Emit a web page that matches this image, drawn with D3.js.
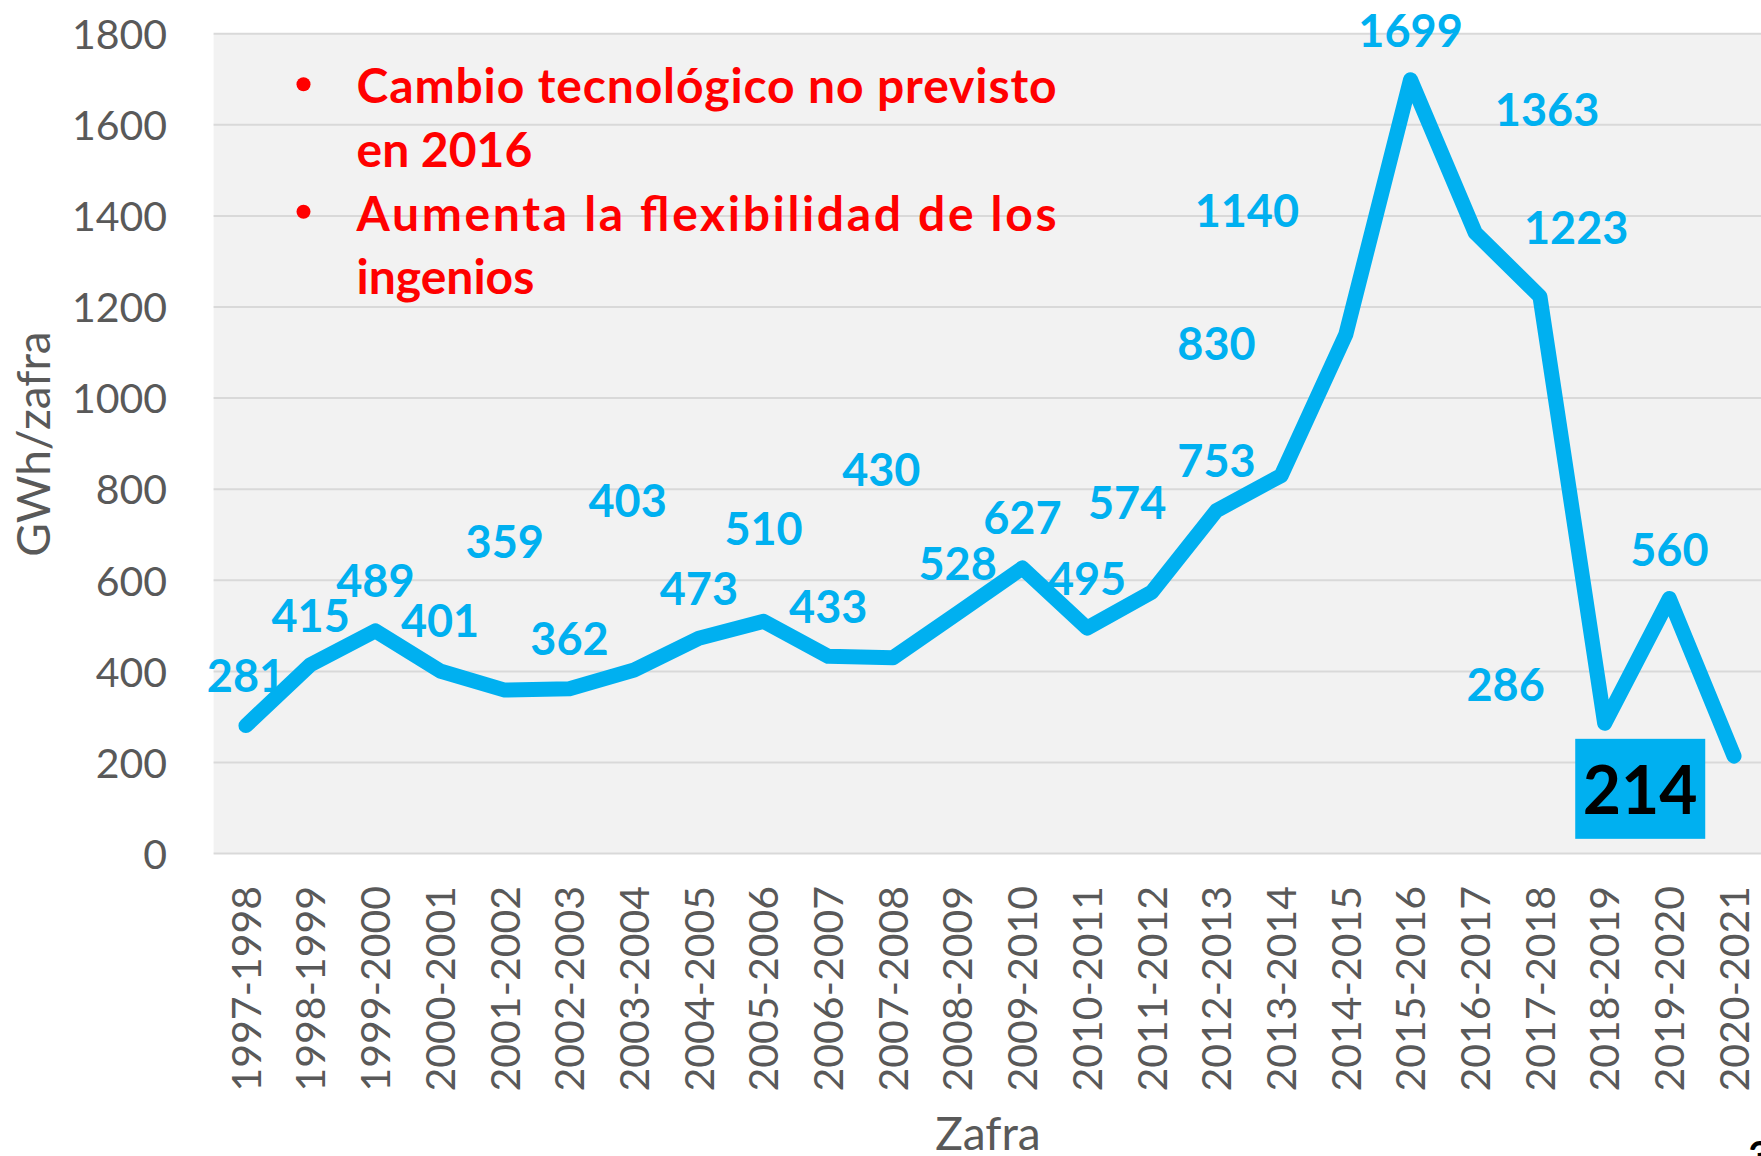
<!DOCTYPE html>
<html>
<head>
<meta charset="utf-8">
<script src="https://cdn.jsdelivr.net/npm/d3@7"></script>
<style>
  body { margin: 0; background: #fff; }
  svg { display: block; font-family: Lato, "Open Sans", sans-serif; }
</style>
</head>
<body>
<div id="chart"></div>
<script>
var svgWidth = 1761;
var svgHeight = 1156;

// data
var zafras = ["1997-1998", "1998-1999", "1999-2000", "2000-2001", "2001-2002", "2002-2003",
  "2003-2004", "2004-2005", "2005-2006", "2006-2007", "2007-2008", "2008-2009",
  "2009-2010", "2010-2011", "2011-2012", "2012-2013", "2013-2014", "2014-2015",
  "2015-2016", "2016-2017", "2017-2018", "2018-2019", "2019-2020", "2020-2021"];
var gwh = [281, 415, 489, 401, 359, 362, 403, 473, 510, 433, 430, 528,
  627, 495, 574, 753, 830, 1140, 1699, 1363, 1223, 286, 560, 214];
var yTicks = [0, 200, 400, 600, 800, 1000, 1200, 1400, 1600, 1800];

// where each value label was dragged to (category index, value level)
var labelIdx = [0, 1, 2, 3, 4, 5, 5.9, 7, 8, 9, 9.82, 11,
  12, 13, 13.62, 15, 15, 15.47, 18, 20.11, 20.56, 19.47, 22, 21.55];
var labelLvl = [390, 523, 598, 510, 685, 472, 775, 581, 712, 542, 842, 636,
  738, 604, 770, 863, 1119, 1411, 1806, 1634, 1373, 370, 667, 140];

var notes = [
  {bullet: true, text: "Cambio tecnológico no previsto", justify: true},
  {bullet: false, text: "en 2016", justify: false},
  {bullet: true, text: "Aumenta la flexibilidad de los", justify: true},
  {bullet: false, text: "ingenios", justify: false}
];

var blue = "#00B0F0";
var grey = "#595959";

var margin = {top: 33.7, left: 213.6, bottom: 1156 - 853.6};
var band = 64.7;

var svg = d3.select("#chart").append("svg")
  .attr("width", svgWidth)
  .attr("height", svgHeight);

var x = d3.scaleBand()
  .domain(zafras)
  .range([margin.left, margin.left + band * zafras.length]);

var y = d3.scaleLinear()
  .domain([0, 1800])
  .range([svgHeight - margin.bottom, margin.top]);

// fractional category position, for the dragged labels
var xi = d3.scaleLinear()
  .domain([0, zafras.length - 1])
  .range([x(zafras[0]) + x.bandwidth() / 2, x(zafras[zafras.length - 1]) + x.bandwidth() / 2]);

// plot background
svg.append("rect")
  .attr("x", x.range()[0])
  .attr("y", y(1800))
  .attr("width", x.range()[1] - x.range()[0])
  .attr("height", y(0) - y(1800))
  .attr("fill", "#F2F2F2");

// grid
svg.append("g")
  .selectAll("line")
  .data(yTicks)
  .enter()
  .append("line")
  .attr("x1", x.range()[0])
  .attr("x2", x.range()[1])
  .attr("y1", d => y(d))
  .attr("y2", d => y(d))
  .attr("stroke", "#D9D9D9")
  .attr("stroke-width", 2);

// y axis
var leftAxis = d3.axisLeft(y)
  .tickValues(yTicks)
  .tickFormat(d3.format("d"))
  .tickSize(0)
  .tickPadding(0);
var yAxis = svg.append("g")
  .attr("transform", "translate(167,0)")
  .call(leftAxis);
yAxis.select(".domain").remove();
yAxis.selectAll("text")
  .attr("font-family", "Lato")
  .attr("font-size", 41)
  .attr("fill", grey)
  .attr("dy", "0.36em");

// x axis
var bottomAxis = d3.axisBottom(x).tickSize(0);
var xAxis = svg.append("g")
  .attr("transform", `translate(0, ${y(0)})`)
  .call(bottomAxis);
xAxis.select(".domain").remove();
xAxis.selectAll("text")
  .attr("font-family", "Lato")
  .attr("font-size", 41)
  .attr("fill", grey)
  .attr("text-anchor", "end")
  .attr("transform", "rotate(-90)")
  .attr("x", -(886 - y(0)))
  .attr("y", 0)
  .attr("dy", "0.36em");

// axis titles
svg.append("text")
  .attr("transform", "translate(50, 444) rotate(-90)")
  .attr("text-anchor", "middle")
  .attr("font-size", 46)
  .attr("fill", grey)
  .text("GWh/zafra");

svg.append("text")
  .attr("x", 988)
  .attr("y", 1150)
  .attr("text-anchor", "middle")
  .attr("font-size", 46)
  .attr("fill", grey)
  .text("Zafra");

// line
var line = d3.line()
  .x((d, i) => x(zafras[i]) + x.bandwidth() / 2)
  .y(d => y(d));

svg.append("path")
  .datum(gwh)
  .attr("d", line)
  .attr("fill", "none")
  .attr("stroke", blue)
  .attr("stroke-width", 15)
  .attr("stroke-linejoin", "round")
  .attr("stroke-linecap", "round");

// value labels
var last = gwh.length - 1;
svg.append("rect")
  .attr("x", xi(labelIdx[last]) - 65)
  .attr("y", y(labelLvl[last]) - 51)
  .attr("width", 130)
  .attr("height", 100)
  .attr("fill", blue);

svg.append("g")
  .selectAll("text")
  .data(gwh)
  .enter()
  .append("text")
  .attr("x", (d, i) => xi(labelIdx[i]))
  .attr("y", (d, i) => y(labelLvl[i]))
  .attr("dy", "0.36em")
  .attr("text-anchor", "middle")
  .attr("font-weight", "bold")
  .attr("font-size", (d, i) => i === last ? 66 : 45)
  .attr("fill", (d, i) => i === last ? "#000" : blue)
  .text(d => d);

// red notes
var notesG = svg.append("g").attr("fill", "#FF0000");
notes.forEach(function(n, i) {
  var base = 103.3 + i * 63.7;
  if (n.bullet) {
    notesG.append("circle")
      .attr("cx", 303.5)
      .attr("cy", base - 19)
      .attr("r", 7);
  }
  var t = notesG.append("text")
    .attr("x", 356.5)
    .attr("y", base)
    .attr("font-size", 48)
    .attr("font-weight", "bold")
    .text(n.text);
  if (n.justify) {
    t.attr("textLength", 700).attr("lengthAdjust", "spacing");
  }
});

// slide number, cut by the edge
svg.append("text")
  .attr("x", 1748)
  .attr("y", 1170)
  .attr("font-size", 40)
  .attr("font-weight", "bold")
  .attr("fill", "#000")
  .text("3");
</script>
</body>
</html>
